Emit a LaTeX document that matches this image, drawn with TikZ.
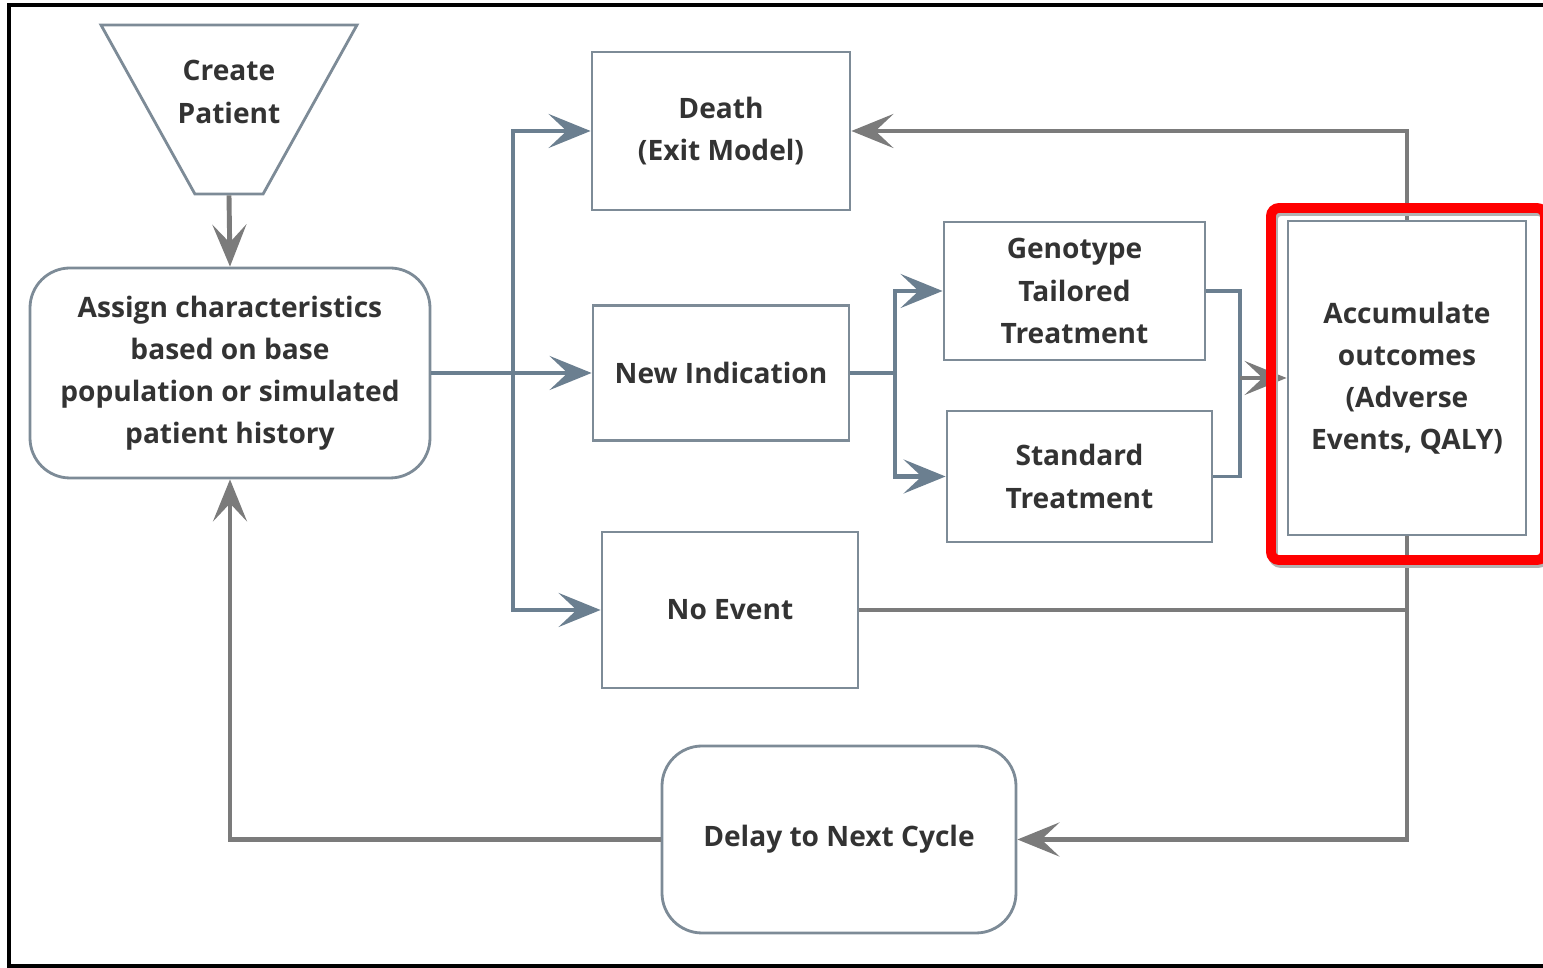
\documentclass[tikz,border=0pt]{standalone}
\usepackage{fontspec}
\setmainfont{Open Sans}
\usetikzlibrary{arrows.meta,shapes.geometric,fit}
\definecolor{boxline}{HTML}{7D8B97}
\definecolor{blueline}{HTML}{6B7F90}
\definecolor{greyline}{HTML}{7B7B7B}
\definecolor{txt}{HTML}{333333}

\begin{document}
\begin{tikzpicture}[
  arr/.style={-{Stealth[length=0.42cm, width=0.34cm, inset=0.18cm]}},
  box/.style={draw=boxline, line width=0.8pt, fill=white, align=center, inner sep=0pt,
    text=txt, font=\bfseries\fontsize{8}{12}\selectfont},
  rbox/.style={box, rounded corners=0.4cm},
  conn/.style={draw=blueline, line width=1.4pt},
  thin conn/.style={draw=blueline, line width=0.9pt},
  gconn/.style={draw=greyline, line width=1.4pt}
]
  \useasboundingbox (0,0) rectangle (15.43,-9.68);
  \draw[line width=1.1pt] (15.6,-0.05) -| (0.09,-9.66) -- (15.6,-9.66);

  \node[box, trapezium, shape border rotate=180, trapezium angle=36, inner sep=1pt,
    trapezium stretches, minimum width=2.56cm, minimum height=1.69cm] (create) at (2.29,-1.095) {};
  \node[box, draw=none, fill=none] (createtxt) at (2.29,-0.92) {Create\\Patient};
  \node[rbox, minimum width=4.00cm, minimum height=2.10cm] (assign) at (2.30,-3.73)
    {Assign characteristics\\based on base\\population or simulated\\patient history};
  \node[box, minimum width=2.58cm, minimum height=1.58cm] (death) at (7.21,-1.31) {Death\\(Exit Model)};
  \node[box, minimum width=2.56cm, minimum height=1.35cm] (newind) at (7.21,-3.73) {New Indication};
  \node[box, minimum width=2.56cm, minimum height=1.56cm] (noevent) at (7.30,-6.10) {No Event};
  \node[box, minimum width=2.61cm, minimum height=1.38cm] (geno) at (10.745,-2.91) {Genotype\\Tailored\\Treatment};
  \node[box, minimum width=2.65cm, minimum height=1.31cm] (std) at (10.795,-4.765) {Standard\\Treatment};
  \node[box, minimum width=2.38cm, minimum height=3.14cm] (accum) at (14.07,-3.78)
    {Accumulate\\outcomes\\(Adverse\\Events, QALY)};
  \node[rbox, minimum width=3.54cm, minimum height=1.87cm] (delay) at (8.39,-8.395) {Delay to Next Cycle};

  \coordinate (fork) at (5.13,-3.73);
  \coordinate (split) at (8.95,-3.73);
  \coordinate (join) at (12.40,-3.78);

  \draw[gconn,arr] (create.south) -- (assign.north);
  \draw[conn,arr] (assign.east) -- (newind.west);
  \draw[conn,arr] (fork) |- (death.west);
  \draw[conn,arr] (fork) |- (noevent.west);
  \draw[conn] (newind.east) -- (split);
  \draw[conn,arr] (split) |- (geno.west);
  \draw[conn,arr] (split) |- (std.west);
  \draw[thin conn] (geno.east) -| (join) |- (std.east);
  \draw[gconn,arr] (join) -- (accum.west);
  \draw[gconn,arr] (accum.north) |- (death.east);
  \draw[gconn] (noevent.east) -- (noevent.east -| accum.south);
  \draw[gconn,arr] (accum.south) |- (delay.east);
  \draw[gconn,arr] (delay.west) -| (assign.south);

  \draw[black!30, line width=2.8pt, rounded corners=0.08cm] (12.73,-2.11) rectangle (15.46,-5.63);
  \node[draw=red, line width=2.8pt, rounded corners=0.08cm, inner sep=0pt,
    fit={(12.71,-2.08) (15.45,-5.60)}] (mark) {};
\end{tikzpicture}
\end{document}
